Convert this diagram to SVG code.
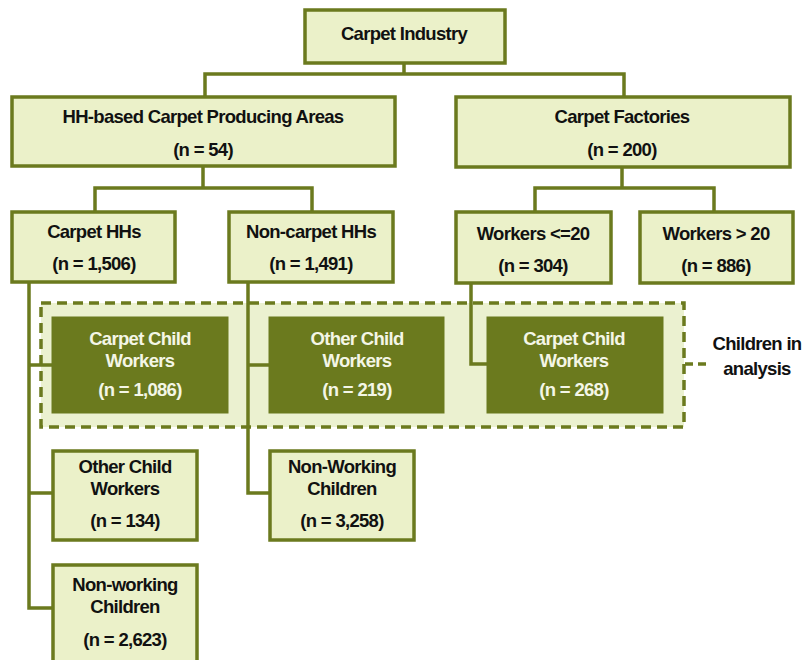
<svg xmlns="http://www.w3.org/2000/svg" width="804" height="660" viewBox="0 0 804 660">
<style>
.lt{fill:#ebf1c9;stroke:#6b7a1e;stroke-width:3.5}
.dk{fill:#6b7a1e;stroke:#6b7a1e;stroke-width:1}
.c{fill:none;stroke:#6b7a1e;stroke-width:3.5}
text{font-family:"Liberation Sans",Arial,sans-serif;font-weight:bold;font-size:18.5px;letter-spacing:-0.7px;text-anchor:middle;fill:#111}
.w{fill:#f4f6e6}
</style>
<rect width="804" height="660" fill="#fff"/>
<g id="analysis-group">
<rect x="41" y="303" width="643" height="124" fill="#ebf1d0" stroke="#6b7a1e" stroke-width="3.5" stroke-dasharray="10,6"/>
</g>
<g id="connectors">
<path class="c" d="M404 63V74M205 97V74H624V97"/>
<path class="c" d="M203 166V188M95 212V188H312V212"/>
<path class="c" d="M622 167V188M535 212V188H714V212"/>
<path class="c" d="M29 282V608H53M29 365H52M29 493H53"/>
<path class="c" d="M248 282V493H270M248 365H269"/>
<path class="c" d="M471 283V364H487"/>
<path class="c" d="M685 364H710" stroke-dasharray="8,5"/>
</g>
<g id="carpet-industry"><rect class="lt" x="305" y="10" width="200" height="53"/><text x="404" y="40">Carpet Industry</text></g>
<g id="hh-areas"><rect class="lt" x="12" y="97" width="383" height="69"/><text x="203" y="123">HH-based Carpet Producing Areas</text><text x="203" y="156">(n = 54)</text></g>
<g id="factories"><rect class="lt" x="456" y="97" width="334" height="70"/><text x="622" y="123">Carpet Factories</text><text x="622" y="156">(n = 200)</text></g>
<g id="carpet-hhs"><rect class="lt" x="12" y="212" width="163" height="70"/><text x="94" y="238">Carpet HHs</text><text x="94" y="270">(n = 1,506)</text></g>
<g id="noncarpet-hhs"><rect class="lt" x="229" y="212" width="164" height="70"/><text x="311" y="238">Non-carpet HHs</text><text x="311" y="270">(n = 1,491)</text></g>
<g id="workers-le20"><rect class="lt" x="456" y="212" width="155" height="71"/><text x="533" y="240">Workers &lt;=20</text><text x="533" y="272">(n = 304)</text></g>
<g id="workers-gt20"><rect class="lt" x="640" y="212" width="153" height="71"/><text x="716" y="240">Workers &gt; 20</text><text x="716" y="272">(n = 886)</text></g>
<g id="carpet-child-hh"><rect class="dk" x="52" y="317" width="176" height="96"/><text class="w" x="140" y="345">Carpet Child</text><text class="w" x="140" y="367">Workers</text><text class="w" x="140" y="396">(n = 1,086)</text></g>
<g id="other-child-noncarpet"><rect class="dk" x="269" y="317" width="175" height="96"/><text class="w" x="357" y="345">Other Child</text><text class="w" x="357" y="367">Workers</text><text class="w" x="357" y="396">(n = 219)</text></g>
<g id="carpet-child-factory"><rect class="dk" x="487" y="317" width="176" height="96"/><text class="w" x="574" y="345">Carpet Child</text><text class="w" x="574" y="367">Workers</text><text class="w" x="574" y="396">(n = 268)</text></g>
<g id="children-label"><text x="757" y="350">Children in</text><text x="757" y="375">analysis</text></g>
<g id="other-child-carpet"><rect class="lt" x="53" y="451" width="144" height="89"/><text x="125" y="473">Other Child</text><text x="125" y="495">Workers</text><text x="125" y="527">(n = 134)</text></g>
<g id="nonworking-noncarpet"><rect class="lt" x="270" y="451" width="144" height="89"/><text x="342" y="473">Non-Working</text><text x="342" y="495">Children</text><text x="342" y="527">(n = 3,258)</text></g>
<g id="nonworking-carpet"><rect class="lt" x="53" y="565" width="144" height="97"/><text x="125" y="591">Non-working</text><text x="125" y="613">Children</text><text x="125" y="646">(n = 2,623)</text></g>
</svg>
